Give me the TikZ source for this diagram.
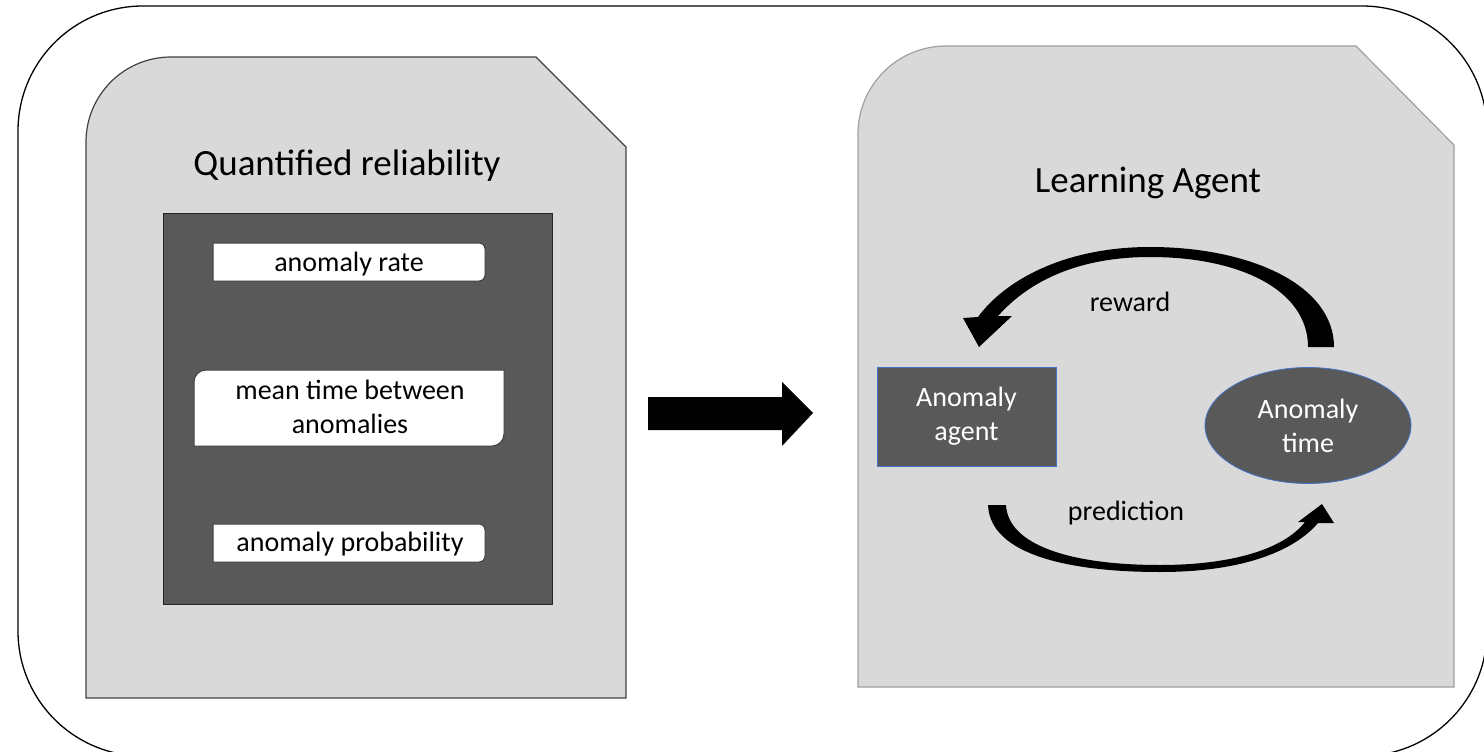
\documentclass[tikz,border=0pt]{standalone}
\usepackage{fontspec}
\setmainfont{Carlito}
\usetikzlibrary{shapes.geometric}
\definecolor{panelgray}{HTML}{D9D9D9}
\definecolor{darkgray}{HTML}{595959}
\definecolor{blueline}{HTML}{4472C4}
\definecolor{leftline}{HTML}{404040}
\definecolor{rightline}{HTML}{A0A0A0}
\definecolor{boxline}{HTML}{404040}
\begin{document}
\begin{tikzpicture}[x=1pt,y=-1pt,
  every node/.style={inner sep=0pt, outer sep=0pt},
  title/.style={font=\fontsize{37}{44}\selectfont, anchor=base},
  lbl/.style={font=\fontsize{28}{34}\selectfont, align=center},
  panelshape/.style={fill=panelgray, line width=1.2pt},
  wbox/.style={fill=white, draw=boxline, line width=1pt},
  darknode/.style={lbl, text=white, fill=darkgray, draw=blueline, line width=0.8pt}]
\useasboundingbox (0,0) rectangle (1484,752);
% outer frame
\draw[line width=1.3pt, rounded corners=125pt] (18,6) rectangle (1487,756);
% left panel
\draw[panelshape, draw=leftline] (86,142) .. controls (86,95) and (124,57) .. (171,57) -- (536,57) -- (626,147) -- (626,698) -- (86,698) -- cycle;
% right panel
\draw[panelshape, draw=rightline] (858,134) .. controls (858,85.4) and (897.4,46) .. (946,46) -- (1356,46) -- (1454,145) -- (1454,687) -- (858,687) -- cycle;
% dark box
\draw[fill=darkgray, draw=black!85, line width=1pt] (163,213) rectangle (552,604);
% white boxes
\draw[wbox] (213,243) -- (479,243) .. controls (482.3,243) and (485,245.7) .. (485,249) -- (485,275) .. controls (485,278.3) and (482.3,281) .. (479,281) -- (213,281) -- cycle;
\draw[wbox] (194,382) .. controls (194,375.4) and (199.4,370) .. (206,370) -- (504,370) -- (504,434) .. controls (504,440.6) and (498.6,446) .. (492,446) -- (194,446) -- cycle;
\draw[wbox] (213,524) -- (479,524) .. controls (482.3,524) and (485,526.7) .. (485,530) -- (485,556) .. controls (485,559.3) and (482.3,562) .. (479,562) -- (213,562) -- cycle;
\node[lbl, anchor=base] (rate) at (349,271) {anomaly rate};
\node[lbl] (mtba) at (350,407) {mean time between\\anomalies};
\node[lbl, anchor=base] (prob) at (350,551) {anomaly probability};
% titles
\node[title] (qr) at (347,175) {Quantified reliability};
\node[title] (la) at (1148,192) {Learning Agent};
% big arrow
\fill (648,397) -- (782,397) -- (782,382) -- (813,413) -- (782,446) -- (782,430) -- (648,430) -- cycle;
% agent nodes
\node[darknode, minimum width=179pt, minimum height=99pt] (agent) at (966.5,416.5) {Anomaly\\agent};
\node[darknode, ellipse, minimum width=206pt, minimum height=116pt] (time) at (1308,425.5) {Anomaly\\time};
% reward curved arrow
\fill (1334,347) .. controls (1334,285) and (1250,247) .. (1150,247) .. controls (1065,247) and (1005,280) .. (978,317) -- (963,318) -- (979,347) -- (1012,316) -- (998,316) .. controls (1030,280) and (1080,257) .. (1150,257) .. controls (1240,257) and (1308,290) .. (1308,347) -- cycle;
% prediction curved arrow
\fill (988,505) .. controls (990,555) and (1070,572) .. (1160,572) .. controls (1245,572) and (1295,550) .. (1318,523) -- (1334,523) -- (1322,504) -- (1298,522) -- (1305,522) .. controls (1283,550) and (1230,565) .. (1160,565) .. controls (1070,565) and (1008,545) .. (1006,505) -- cycle;
\node[lbl, anchor=base] (rew) at (1130,311) {reward};
\node[lbl, anchor=base] (pred) at (1126,520) {prediction};
\end{tikzpicture}
\end{document}
